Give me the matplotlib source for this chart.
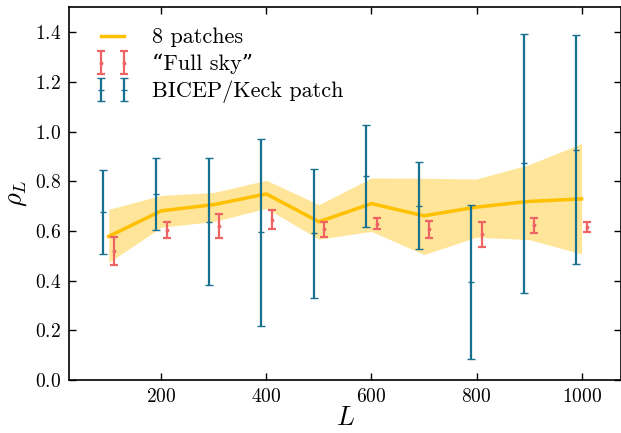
import matplotlib
matplotlib.use("Agg")
import matplotlib.pyplot as plt
import numpy as np

plt.rcParams['font.family'] = ['cmr10', 'DejaVu Serif']
plt.rcParams['mathtext.fontset'] = 'cm'
plt.rcParams['axes.formatter.use_mathtext'] = True

# 8 patches (mean and band)
L_patch = [100, 200, 300, 400, 500, 600, 700, 800, 900, 1000]
rho_patch = [0.578, 0.681, 0.706, 0.749, 0.637, 0.710, 0.661, 0.696, 0.719, 0.729]
band_lo = [0.473, 0.615, 0.638, 0.691, 0.567, 0.598, 0.505, 0.575, 0.565, 0.508]
band_hi = [0.687, 0.743, 0.755, 0.804, 0.706, 0.813, 0.812, 0.809, 0.867, 0.952]

# "Full sky"
L_full = [110, 210, 310, 410, 510, 610, 710, 810, 910, 1010]
rho_full = [0.519, 0.605, 0.621, 0.645, 0.607, 0.629, 0.606, 0.586, 0.622, 0.614]
err_full = [0.056, 0.033, 0.048, 0.038, 0.030, 0.022, 0.036, 0.051, 0.030, 0.020]

# BICEP/Keck patch
L_bk = [90, 190, 290, 390, 490, 590, 690, 790, 890, 990]
rho_bk = [0.676, 0.749, 0.638, 0.594, 0.591, 0.821, 0.702, 0.394, 0.872, 0.926]
err_bk = [0.170, 0.144, 0.255, 0.376, 0.259, 0.205, 0.176, 0.309, 0.522, 0.461]

c_yel = '#FFC000'
c_red = '#EE6464'
c_blu = '#17708F'

fig = plt.figure(figsize=(6.21, 4.33), dpi=100)
ax = fig.add_axes([0.1116, 0.1224, 0.8884, 0.8606])

ax.fill_between(L_patch, band_lo, band_hi, color=c_yel, alpha=0.4, lw=0)
ax.plot(L_patch, rho_patch, color=c_yel, lw=2.5, label='8 patches')
ax.errorbar(L_full, rho_full, yerr=err_full, fmt='.', color=c_red, ms=3.5,
            lw=1.6, capsize=3, capthick=1.6, label='\u201cFull sky\u201d')
ax.errorbar(L_bk, rho_bk, yerr=err_bk, fmt='_', color=c_blu, ms=5, mew=1,
            lw=1.6, capsize=3.2, capthick=1.6, label='BICEP/Keck patch')

ax.set_xlim(25, 1075)
ax.set_ylim(0, 1.5)
ax.set_xticks([200, 400, 600, 800, 1000])
ax.set_yticks([0.0, 0.2, 0.4, 0.6, 0.8, 1.0, 1.2, 1.4])
ax.tick_params(direction='in', top=True, right=True, length=5, width=1,
               labelsize=14, pad=6)
for s in ax.spines.values():
    s.set_linewidth(1.2)

ax.set_xlabel('$L$', fontsize=19, labelpad=0)
ax.set_ylabel(r'$\rho_L$', fontsize=19, labelpad=4)

ax.legend(loc='upper left', bbox_to_anchor=(0.009, 1.0), frameon=False,
          fontsize=16, numpoints=2, handlelength=1.6, handletextpad=1.0,
          labelspacing=0.29, borderaxespad=0.52, borderpad=0.4)

fig.savefig('out.png', dpi=100)
